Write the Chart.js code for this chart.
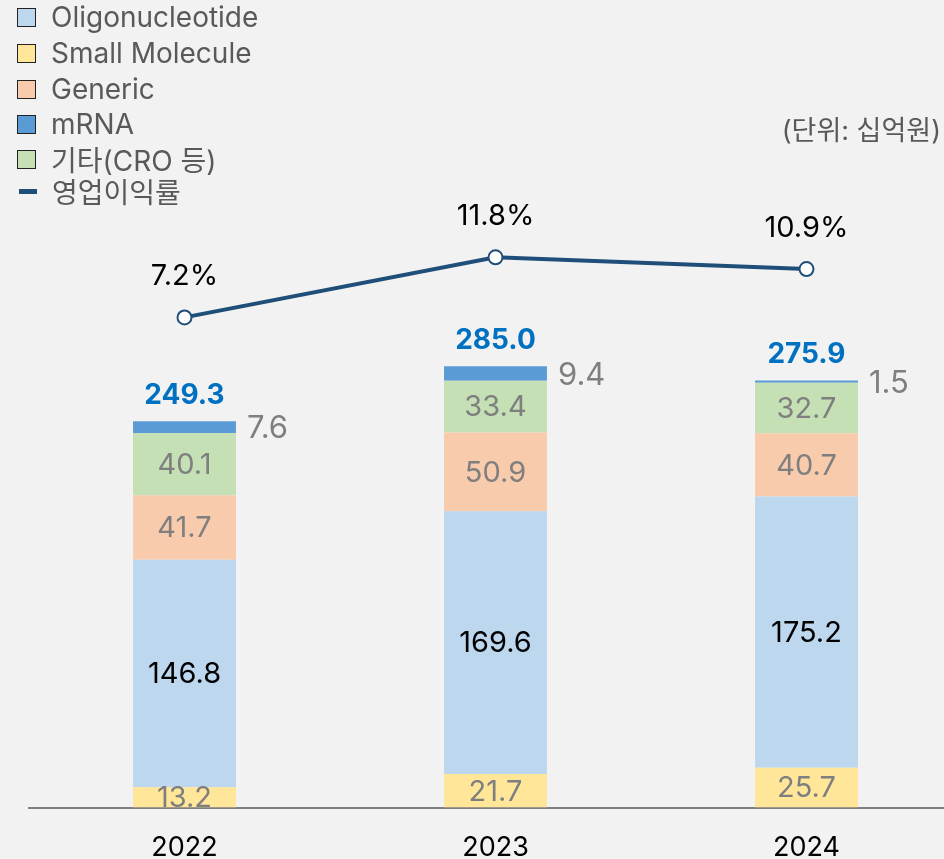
<!DOCTYPE html>
<html>
<head>
<meta charset="utf-8">
<script src="https://cdn.jsdelivr.net/npm/chart.js@4/dist/chart.umd.min.js"></script>
<style>
  html, body { margin: 0; padding: 0; background: #f2f2f2; overflow: hidden; }
  #wrap { position: relative; width: 944px; height: 859px; overflow: hidden; }
  #salesChart { position: absolute; left: 0; top: 0; }
  .legend { position: absolute; left: 0; top: 0; font-family: Inter, "Noto Sans CJK KR", sans-serif; font-size: 28px; color: #595959; }
  .legend-row { position: absolute; left: 17px; height: 32px; display: flex; align-items: center; white-space: nowrap; }
  .legend-box { width: 19px; height: 19px; border: 1px solid #222; box-sizing: border-box; margin-right: 15px; }
  .legend-line { width: 18px; height: 5px; background: #1f4e79; margin: 0 15px 0 2px; }
  .unit { position: absolute; right: 3px; top: 109px; font-family: Inter, "Noto Sans CJK KR", sans-serif; font-size: 27px; color: #595959; }
</style>
</head>
<body>
<div id="wrap">
  <canvas id="salesChart" width="971" height="888"></canvas>
  <div class="legend" id="legend"></div>
  <div class="unit">(단위: 십억원)</div>
</div>
<script>
const years = ['2022', '2023', '2024'];
const smallMolecule = [13.2, 21.7, 25.7];
const oligonucleotide = [146.8, 169.6, 175.2];
const generic = [41.7, 50.9, 40.7];
const others = [40.1, 33.4, 32.7];
const mrna = [7.6, 9.4, 1.5];
const totals = [249.3, 285.0, 275.9];
const opMargin = [7.2, 11.8, 10.9];

const COLORS = {
    oligo: '#bdd7ee',
    small: '#ffe699',
    generic: '#f8cbad',
    mrna: '#5b9bd5',
    others: '#c5e0b4',
    line: '#1f4e79'
};
const FONT = 'Inter, "Noto Sans CJK KR", sans-serif';

// legend (top-left, vertical)
const legendItems = [
    { label: 'Oligonucleotide', color: COLORS.oligo, y: 1 },
    { label: 'Small Molecule', color: COLORS.small, y: 37 },
    { label: 'Generic', color: COLORS.generic, y: 73 },
    { label: 'mRNA', color: COLORS.mrna, y: 108 },
    { label: '기타(CRO 등)', color: COLORS.others, y: 143 },
    { label: '영업이익률', line: true, y: 175 }
];
const legendEl = document.getElementById('legend');
legendItems.forEach(item => {
    const row = document.createElement('div');
    row.className = 'legend-row';
    row.style.top = item.y + 'px';
    const mark = document.createElement('span');
    if (item.line) {
        mark.className = 'legend-line';
    } else {
        mark.className = 'legend-box';
        mark.style.background = item.color;
    }
    const text = document.createElement('span');
    text.textContent = item.label;
    row.appendChild(mark);
    row.appendChild(text);
    legendEl.appendChild(row);
});

// value labels drawn from the element positions
const labelPlugin = {
    id: 'valueLabels',
    afterDatasetsDraw(chart) {
        const ctx = chart.ctx;
        ctx.save();
        ctx.textBaseline = 'middle';
        chart.data.datasets.forEach((ds, di) => {
            const meta = chart.getDatasetMeta(di);
            meta.data.forEach((el, i) => {
                const v = ds.data[i];
                if (ds.type === 'line') {
                    ctx.font = '29px ' + FONT;
                    ctx.fillStyle = '#000000';
                    ctx.textAlign = 'center';
                    ctx.fillText(v.toFixed(1) + '%', el.x, el.y - 41);
                    return;
                }
                const mid = (el.y + el.base) / 2;
                if (ds.key === 'mrna') {
                    ctx.font = '31px ' + FONT;
                    ctx.fillStyle = '#7f7f7f';
                    ctx.textAlign = 'left';
                    ctx.fillText(v.toFixed(1), el.x + el.width / 2 + 11, mid + 2);
                    // total above the stack
                    ctx.font = 'bold 28px ' + FONT;
                    ctx.fillStyle = '#0070c0';
                    ctx.textAlign = 'center';
                    ctx.fillText(totals[i].toFixed(1), el.x, el.y - 26);
                    return;
                }
                ctx.font = '29px ' + FONT;
                ctx.fillStyle = ds.key === 'oligo' ? '#000000' : '#7f7f7f';
                ctx.textAlign = 'center';
                ctx.fillText(v.toFixed(1), el.x, mid + 1);
            });
        });
        ctx.restore();
    }
};

const barOpts = { categoryPercentage: 1, barPercentage: 0.331, order: 1, yAxisID: 'y', borderWidth: 0 };

new Chart(document.getElementById('salesChart'), {
    type: 'bar',
    data: {
        labels: years,
        datasets: [
            { key: 'small', label: 'Small Molecule', data: smallMolecule, backgroundColor: COLORS.small, ...barOpts },
            { key: 'oligo', label: 'Oligonucleotide', data: oligonucleotide, backgroundColor: COLORS.oligo, ...barOpts },
            { key: 'generic', label: 'Generic', data: generic, backgroundColor: COLORS.generic, ...barOpts },
            { key: 'others', label: '기타(CRO 등)', data: others, backgroundColor: COLORS.others, ...barOpts },
            { key: 'mrna', label: 'mRNA', data: mrna, backgroundColor: COLORS.mrna, ...barOpts },
            {
                type: 'line',
                label: '영업이익률',
                data: opMargin,
                yAxisID: 'y1',
                order: 0,
                borderColor: COLORS.line,
                borderWidth: 4,
                pointRadius: 7,
                pointBorderWidth: 2,
                pointBackgroundColor: '#ffffff',
                pointBorderColor: COLORS.line,
                tension: 0
            }
        ]
    },
    options: {
        responsive: false,
        animation: false,
        layout: { padding: { left: 29, right: 0, top: 219, bottom: 0 } },
        plugins: {
            legend: { display: false },
            tooltip: { enabled: false }
        },
        scales: {
            x: {
                stacked: true,
                grid: { display: false, drawTicks: false },
                border: { display: true, color: '#808080', width: 2 },
                ticks: { color: '#000000', padding: 24, font: { family: FONT, size: 27 } }
            },
            y: {
                stacked: true,
                display: false,
                min: 0,
                max: 380
            },
            y1: {
                display: false,
                min: -30.37,
                max: 14.74
            }
        }
    },
    plugins: [labelPlugin]
});
</script>
</body>
</html>
